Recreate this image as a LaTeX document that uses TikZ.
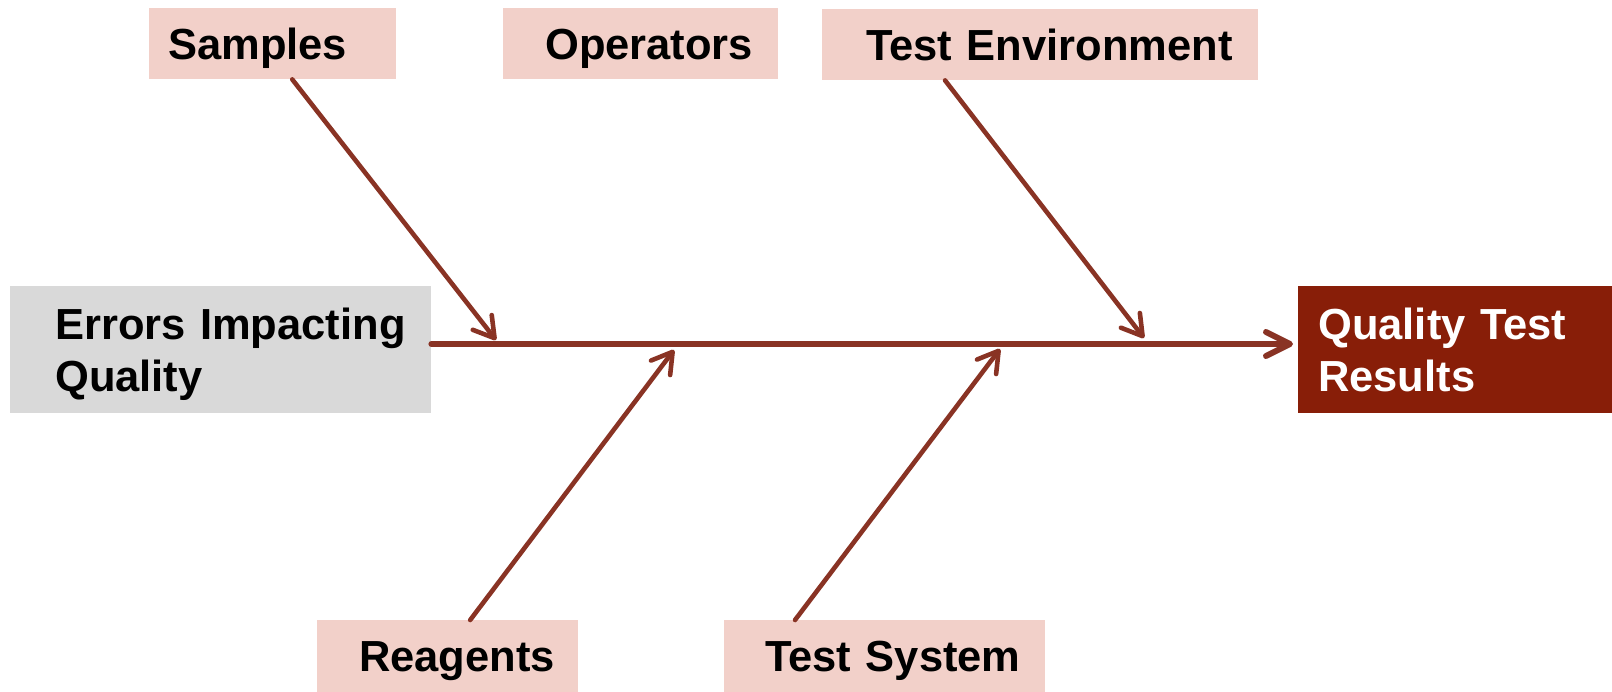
\documentclass[tikz,border=0pt]{standalone}
\usepackage{fontspec}
\setmainfont{Liberation Sans}
\usetikzlibrary{arrows.meta,calc}
\definecolor{pinkbox}{RGB}{242,208,201}
\definecolor{graybox}{RGB}{217,217,217}
\definecolor{darkred}{RGB}{136,30,8}
\definecolor{bonecol}{RGB}{137,51,36}
\begin{document}
\begin{tikzpicture}[x=1pt,y=-1pt,
  box/.style={anchor=north west, inner sep=0pt, align=left,
    font=\fontsize{43.5}{52}\selectfont\bfseries, text height=31pt, text depth=0pt},
  cause/.style={box, fill=pinkbox, minimum height=71pt},
  pad/.style={execute at begin node={\leftskip=#1\relax}},
  bone/.style={draw=bonecol, line width=4.6pt, line cap=round,
    -{Straight Barb[length=20pt,width=24pt,round]}},
  spine/.style={draw=bonecol, line width=6pt, line cap=round,
    -{Straight Barb[length=24pt,width=24pt,round]}},
]
\useasboundingbox (0,0) rectangle (1612,692);

% effect and head
\node[box, fill=graybox, minimum width=421pt, text width=421pt, minimum height=127pt,
      text depth=52pt, pad=45pt] (errors) at (10,286) {Errors Impacting\\Quality};
\node[box, fill=darkred, text=white, minimum width=314pt, text width=314pt, minimum height=127pt,
      text depth=52pt, pad=20pt] (quality) at (1298,286) {Quality Test\\Results};

% causes
\node[cause, minimum width=247pt, text width=247pt, pad=19pt] (samples) at (149,8) {Samples};
\node[cause, minimum width=275pt, text width=275pt, pad=42pt] (operators) at (503,8) {Operators};
\node[cause, minimum width=436pt, text width=436pt, pad=44pt] (testenv) at (822,9) {Test Environment};
\node[cause, minimum width=261pt, text width=261pt, minimum height=72pt, pad=42pt] (reagents) at (317,620) {Reagents};
\node[cause, minimum width=321pt, text width=321pt, minimum height=72pt, pad=41pt] (testsys) at (724,620) {Test System};

% spine
\coordinate (sL) at (errors.east |- 0,344);
\coordinate (sR) at (1293,344);
\draw[spine] (sL) -- (sR);

% bone ends on the spine
\coordinate (eS) at (496,340);
\coordinate (eE) at (1144,338);
\coordinate (eR) at (674,350);
\coordinate (eT) at (1000,349);

\draw[bone] ($(samples.south west)!0.579!(samples.south east)$) -- (eS);
\draw[bone] ($(testenv.south west)!0.282!(testenv.south east)$) -- (eE);
\draw[bone] ($(reagents.north west)!0.586!(reagents.north east)$) -- (eR);
\draw[bone] ($(testsys.north west)!0.221!(testsys.north east)$) -- (eT);
\end{tikzpicture}
\end{document}
